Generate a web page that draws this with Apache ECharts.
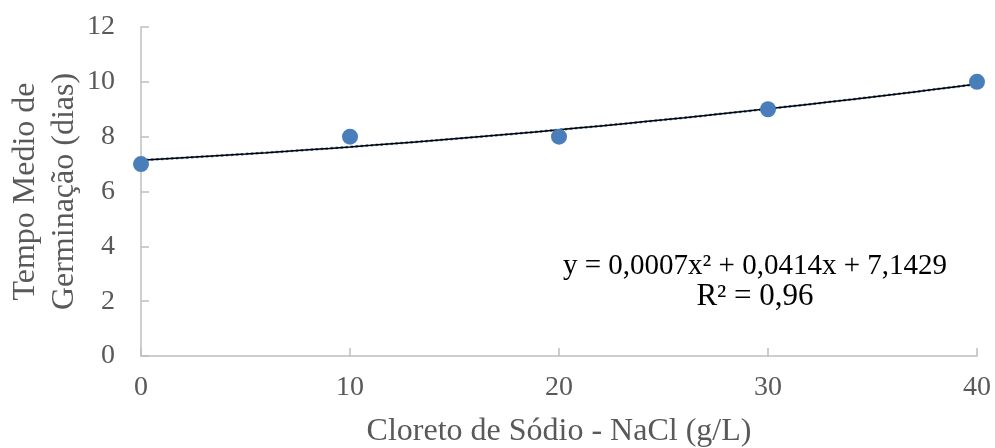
<!DOCTYPE html>
<html>
<head>
<meta charset="utf-8">
<script src="https://cdn.jsdelivr.net/npm/echarts@6/dist/echarts.min.js"></script>
<style>html,body{margin:0;padding:0;background:#fff}#c{width:995px;height:448px}</style>
</head>
<body>
<div id="c"></div>
<script>
const xValues = [0, 10, 20, 30, 40];
const yValues = [7, 8, 8, 9, 10];
const trendCoefs = [0.0007, 0.0414, 7.1429]; // a, b, c of y = a x^2 + b x + c
const xTicks = [0, 10, 20, 30, 40];
const yTicks = [0, 2, 4, 6, 8, 10, 12];
const equationText = 'y = 0,0007x² + 0,0414x + 7,1429';
const r2Text = 'R² = 0,96';

const trend = [];
for (let x = 0; x <= 40; x += 1) {
  trend.push([x, trendCoefs[0]*x*x + trendCoefs[1]*x + trendCoefs[2]]);
}
const font = '"Liberation Serif","Times New Roman",serif';
const chart = echarts.init(document.getElementById('c'));
chart.setOption({
  animation: false,
  grid: {left: 141, right: 18, top: 27, bottom: 92, outerBoundsMode: 'none', containLabel: false},
  xAxis: {
    type: 'value', min: 0, max: 40, interval: 10,
    name: 'Cloreto de Sódio - NaCl (g/L)', nameLocation: 'middle', nameGap: 60, nameMoveOverlap: false,
    nameTextStyle: {fontFamily: font, fontSize: 32, color: '#595959', verticalAlign: 'top'},
    axisLine: {show: true, lineStyle: {color: '#bfbfbf', width: 1.5}},
    axisTick: {show: true, inside: true, length: 8, lineStyle: {color: '#bfbfbf', width: 1.5}},
    axisLabel: {fontFamily: font, fontSize: 28, color: '#595959', margin: 18},
    splitLine: {show: false}
  },
  yAxis: {
    type: 'value', min: 0, max: 12, interval: 2,
    name: 'Tempo Medio de\nGerminação (dias)', nameLocation: 'middle', nameGap: 57, nameMoveOverlap: false,
    nameTextStyle: {fontFamily: font, fontSize: 32, color: '#595959', lineHeight: 39},
    axisLine: {show: true, lineStyle: {color: '#bfbfbf', width: 1.5}},
    axisTick: {show: true, inside: true, length: 8, lineStyle: {color: '#bfbfbf', width: 1.5}},
    axisLabel: {fontFamily: font, fontSize: 28, color: '#595959', margin: 26},
    splitLine: {show: false}
  },
  series: [
    {type: 'line', data: trend, showSymbol: false, symbol: 'none', z: 2,
     lineStyle: {color: '#4a7ebb', width: 2.5, type: 'dotted'}},
    {type: 'line', data: trend, showSymbol: false, symbol: 'none', z: 3,
     lineStyle: {color: '#000', width: 1.5}},
    {type: 'scatter', data: xValues.map((x, i) => [x, yValues[i]]), symbolSize: 16, z: 4,
     itemStyle: {color: '#4a7ebb', opacity: 1}}
  ],
  graphic: [
    {type: 'text', x: 755, y: 266, style: {text: equationText, font: '29px ' + font, fill: '#000', align: 'center', verticalAlign: 'middle'}},
    {type: 'text', x: 755, y: 297, style: {text: r2Text, font: '31px ' + font, fill: '#000', align: 'center', verticalAlign: 'middle'}}
  ]
});
</script>
</body>
</html>
